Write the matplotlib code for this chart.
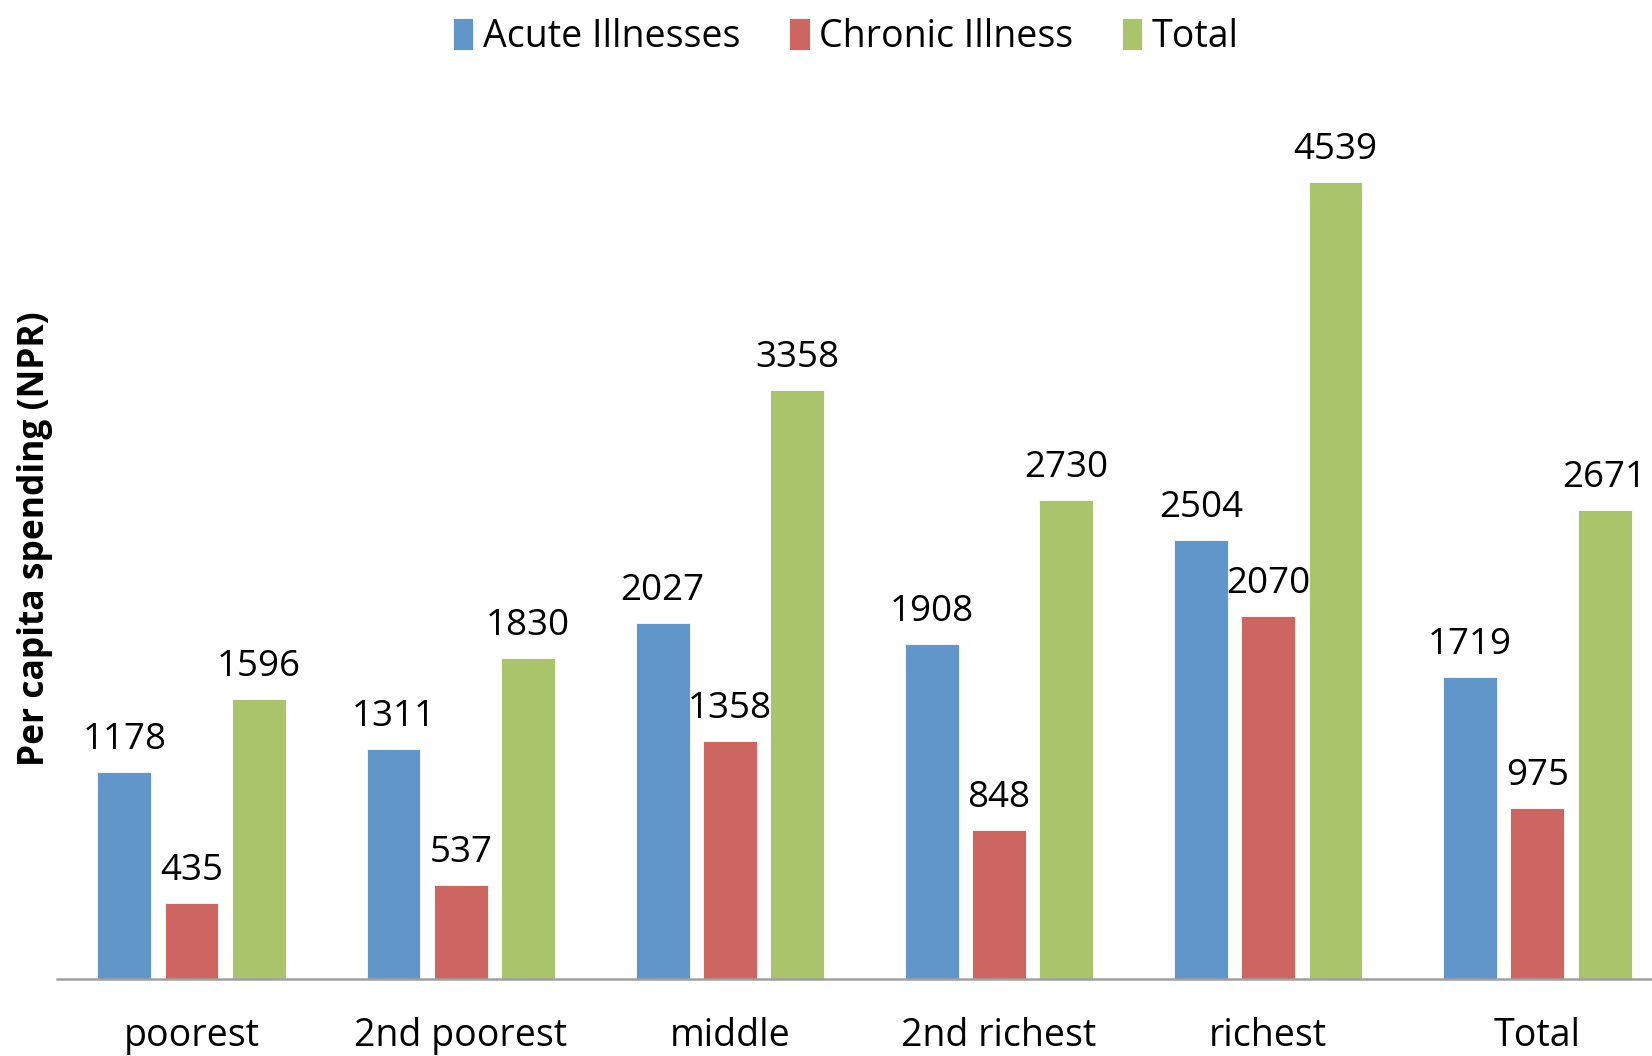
import matplotlib
matplotlib.use("Agg")
import matplotlib.pyplot as plt
import numpy as np

plt.rcParams['font.family'] = ['Open Sans', 'DejaVu Sans']

groups = ['poorest', '2nd poorest', 'middle', '2nd richest', 'richest', 'Total']
acute = [1178, 1311, 2027, 1908, 2504, 1719]
chronic = [435, 537, 1358, 848, 2070, 975]
total = [1596, 1830, 3358, 2730, 4539, 2671]

series_names = ['Acute Illnesses', 'Chronic Illness', 'Total']
colors = ['#6096CA', '#CD6661', '#AAC46C']

fig = plt.figure(figsize=(16.52, 10.56), dpi=100)
ax = fig.add_axes([0.0345, 0.0729, 0.9776, 0.851])

x = np.arange(len(groups))
width = 0.2
offsets = [-0.25, 0.0, 0.25]

for vals, name, col, off in zip([acute, chronic, total], series_names, colors, offsets):
    bars = ax.bar(x + off, vals, width, color=col, label=name,
                  edgecolor='white', linewidth=0.6)
    for b, v in zip(bars, vals):
        ax.annotate(str(v), (b.get_x() + b.get_width() / 2, v),
                    xytext=(0, 10), textcoords='offset points',
                    ha='center', va='bottom', fontsize=26.5)

ax.set_xlim(-0.5, len(groups) - 0.5)
ax.set_ylim(0, 5120)
ax.set_yticks([])
ax.set_xticks(x)
ax.set_xticklabels(groups, fontsize=27)
ax.tick_params(axis='x', length=0, pad=27)

for s in ['top', 'right', 'left']:
    ax.spines[s].set_visible(False)
ax.spines['bottom'].set_color('#A0A0A0')
ax.spines['bottom'].set_linewidth(1.8)

fig.text(0.021, 0.49, 'Per capita spending (NPR)', rotation=90,
         ha='center', va='center', fontsize=25.5, fontweight='bold')

fig.legend(loc='upper center', bbox_to_anchor=(0.512, 1.015), ncol=3,
           frameon=False, fontsize=27, handlelength=0.55, handleheight=0.95,
           handletextpad=0.25, columnspacing=1.3)

plt.savefig('out.png', dpi=100)
